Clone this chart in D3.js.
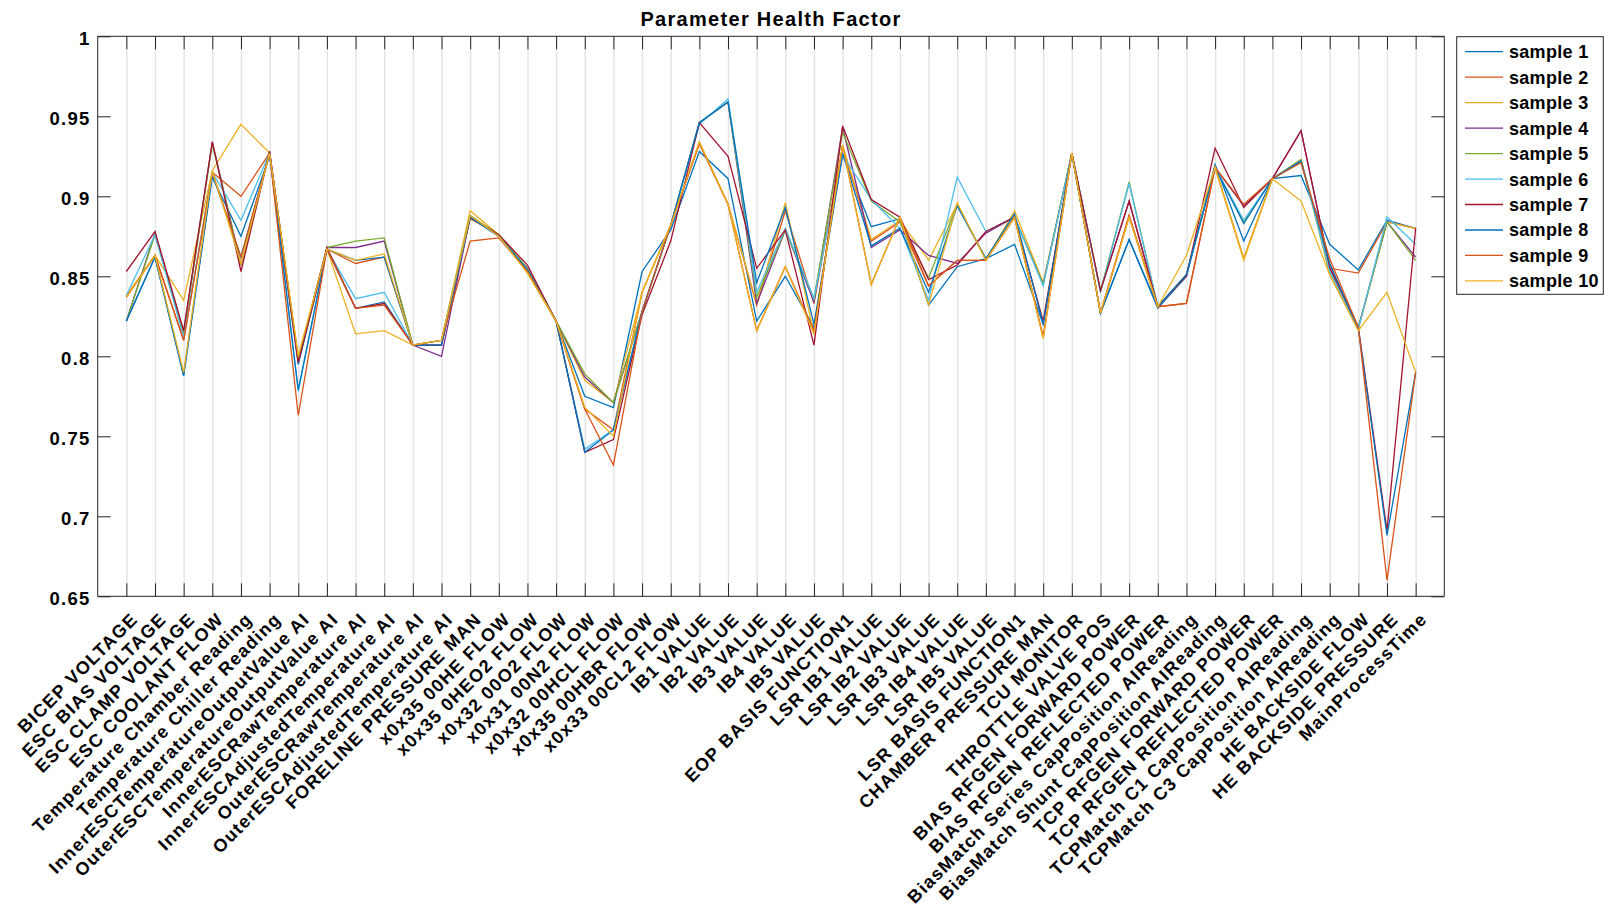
<!DOCTYPE html>
<html>
<head>
<meta charset="utf-8">
<script src="https://cdn.jsdelivr.net/npm/d3@7"></script>
<style>
  html, body { margin: 0; padding: 0; background: #fff; }
  svg text { font-family: "Liberation Sans", Arial, Helvetica, sans-serif; font-weight: bold; fill: #000; }
</style>
</head>
<body>
<svg id="chart" width="1609" height="907"></svg>
<script>
const categories = [
  "BICEP VOLTAGE","ESC BIAS VOLTAGE","ESC CLAMP VOLTAGE","ESC COOLANT FLOW",
  "Temperature Chamber Reading","Temperature Chiller Reading",
  "InnerESCTemperatureOutputValue AI","OuterESCTemperatureOutputValue AI",
  "InnerESCRawTemperature AI","InnerESCAdjustedTemperature AI",
  "OuterESCRawTemperature AI","OuterESCAdjustedTemperature AI",
  "FORELINE PRESSURE MAN","x0x35 00HE FLOW","x0x35 0HEO2 FLOW","x0x32 00O2 FLOW",
  "x0x31 00N2 FLOW","x0x32 00HCL FLOW","x0x35 00HBR FLOW","x0x33 00CL2 FLOW",
  "IB1 VALUE","IB2 VALUE","IB3 VALUE","IB4 VALUE","IB5 VALUE","EOP BASIS FUNCTION1",
  "LSR IB1 VALUE","LSR IB2 VALUE","LSR IB3 VALUE","LSR IB4 VALUE","LSR IB5 VALUE",
  "LSR BASIS FUNCTION1","CHAMBER PRESSURE MAN","TCU MONITOR","THROTTLE VALVE POS",
  "BIAS RFGEN FORWARD POWER","BIAS RFGEN REFLECTED POWER",
  "BiasMatch Series CapPosition AIReading","BiasMatch Shunt CapPosition AIReading",
  "TCP RFGEN FORWARD POWER","TCP RFGEN REFLECTED POWER",
  "TCPMatch C1 CapPosition AIReading","TCPMatch C3 CapPosition AIReading",
  "HE BACKSIDE FLOW","HE BACKSIDE PRESSURE","MainProcessTime"
];

const sample1 = [0.822,0.862,0.788,0.912,0.875,0.925,0.795,0.867,0.830,0.834,0.807,0.807,0.888,0.875,0.853,0.822,0.775,0.768,0.853,0.879,0.928,0.911,0.822,0.850,0.818,0.926,0.881,0.886,0.832,0.856,0.861,0.870,0.820,0.927,0.827,0.873,0.830,0.850,0.920,0.872,0.911,0.913,0.870,0.854,0.885,0.880];
const sample2 = [0.837,0.863,0.810,0.915,0.900,0.927,0.797,0.867,0.858,0.862,0.807,0.810,0.886,0.876,0.854,0.822,0.767,0.754,0.840,0.882,0.933,0.895,0.832,0.891,0.833,0.931,0.872,0.884,0.844,0.860,0.860,0.887,0.812,0.927,0.827,0.888,0.831,0.833,0.918,0.861,0.911,0.922,0.855,0.852,0.884,0.880];
const sample3 = [0.838,0.863,0.835,0.916,0.945,0.927,0.800,0.867,0.814,0.816,0.807,0.810,0.891,0.876,0.852,0.822,0.785,0.771,0.840,0.882,0.934,0.895,0.833,0.896,0.814,0.932,0.873,0.885,0.860,0.895,0.860,0.891,0.846,0.927,0.827,0.887,0.831,0.851,0.918,0.861,0.911,0.923,0.851,0.817,0.884,0.880];
const sample4 = [0.822,0.877,0.815,0.934,0.857,0.928,0.797,0.868,0.868,0.872,0.807,0.800,0.887,0.875,0.855,0.822,0.787,0.771,0.828,0.882,0.946,0.959,0.833,0.879,0.834,0.943,0.868,0.879,0.863,0.858,0.877,0.887,0.845,0.927,0.841,0.897,0.831,0.851,0.918,0.894,0.911,0.941,0.855,0.818,0.884,0.862];
const sample5 = [0.822,0.876,0.814,0.933,0.857,0.927,0.798,0.868,0.872,0.874,0.807,0.810,0.888,0.876,0.855,0.822,0.789,0.771,0.828,0.882,0.946,0.959,0.837,0.879,0.836,0.940,0.897,0.884,0.849,0.895,0.861,0.887,0.845,0.927,0.841,0.909,0.831,0.851,0.918,0.884,0.911,0.923,0.853,0.818,0.884,0.860];
const sample6 = [0.838,0.876,0.812,0.915,0.885,0.927,0.778,0.867,0.836,0.840,0.807,0.810,0.887,0.875,0.854,0.822,0.742,0.754,0.828,0.882,0.945,0.961,0.840,0.880,0.836,0.926,0.898,0.880,0.835,0.912,0.878,0.887,0.844,0.927,0.840,0.908,0.831,0.850,0.918,0.885,0.911,0.922,0.853,0.817,0.887,0.870];
const sample7 = [0.853,0.878,0.816,0.934,0.853,0.928,0.796,0.868,0.830,0.833,0.807,0.807,0.887,0.876,0.857,0.822,0.740,0.748,0.826,0.872,0.946,0.925,0.855,0.879,0.807,0.944,0.898,0.887,0.848,0.857,0.878,0.887,0.822,0.927,0.841,0.897,0.831,0.850,0.930,0.893,0.911,0.941,0.856,0.818,0.691,0.880];
const sample8 = [0.822,0.862,0.788,0.914,0.862,0.927,0.779,0.867,0.860,0.862,0.807,0.807,0.887,0.875,0.854,0.822,0.740,0.754,0.828,0.882,0.946,0.959,0.846,0.893,0.820,0.927,0.869,0.880,0.840,0.894,0.861,0.889,0.820,0.927,0.827,0.873,0.831,0.851,0.918,0.883,0.911,0.922,0.858,0.817,0.688,0.790];
const sample9 = [0.837,0.863,0.810,0.915,0.862,0.927,0.763,0.867,0.830,0.832,0.807,0.810,0.872,0.874,0.853,0.822,0.767,0.732,0.828,0.882,0.933,0.895,0.816,0.856,0.816,0.932,0.845,0.887,0.844,0.860,0.860,0.887,0.812,0.927,0.827,0.888,0.831,0.833,0.918,0.895,0.911,0.921,0.861,0.818,0.660,0.790];
const sample10 = [0.837,0.863,0.790,0.916,0.858,0.927,0.800,0.867,0.860,0.864,0.807,0.810,0.888,0.875,0.852,0.822,0.768,0.750,0.840,0.882,0.934,0.895,0.816,0.856,0.814,0.932,0.845,0.887,0.832,0.896,0.860,0.887,0.811,0.927,0.827,0.887,0.831,0.863,0.918,0.860,0.911,0.897,0.851,0.816,0.840,0.790];

const seriesNames = ["sample 1","sample 2","sample 3","sample 4","sample 5","sample 6","sample 7","sample 8","sample 9","sample 10"];
const seriesValues = [sample1,sample2,sample3,sample4,sample5,sample6,sample7,sample8,sample9,sample10];
const colors = ["#0072BD","#D95319","#EDB120","#7E2F8E","#77AC30","#4DBEEE","#A2142F","#0072BD","#D95319","#EDB120"];
const yTicks = [0.65,0.7,0.75,0.8,0.85,0.9,0.95,1];
const yTickLabels = ["0.65","0.7","0.75","0.8","0.85","0.9","0.95","1"];
const title = "Parameter Health Factor";

const svg = d3.select("#chart");
const L = 97.7, R = 1444.3, T = 36.3, B = 596.3;
const idx = categories.map((c, i) => i + 1);

const x = d3.scaleLinear().domain([0, categories.length + 1]).range([L, R]);
const y = d3.scaleLinear().domain([0.65, 1]).range([B, T]);

svg.append("rect").attr("x", 0).attr("y", 0).attr("width", 1609).attr("height", 907).attr("fill", "#fff");

// vertical grid
const grid = svg.append("g").attr("transform", `translate(0,${B})`)
  .call(d3.axisBottom(x).tickValues(idx).tickSize(-(B - T)).tickFormat(""));
grid.select(".domain").remove();
grid.selectAll("line").attr("stroke", "#e4e4e4").attr("stroke-width", 1.4);

// lines
const line = d3.line().x((d, i) => x(i + 1)).y(d => y(d));
svg.append("g").selectAll("path").data(seriesValues).join("path")
  .attr("d", d => line(d))
  .attr("fill", "none")
  .attr("stroke", (d, i) => colors[i])
  .attr("stroke-width", 1.3)
  .attr("stroke-linejoin", "miter");

const axisColor = "#262626";

// bottom axis
const gx = svg.append("g").attr("transform", `translate(0,${B})`)
  .call(d3.axisBottom(x).tickValues(idx).tickSizeInner(-13).tickSizeOuter(0).tickFormat((d) => categories[d - 1]));
gx.select(".domain").attr("stroke", axisColor).attr("d", `M${L},0H${R}`);
gx.selectAll(".tick line").attr("stroke", axisColor);
gx.selectAll(".tick text")
  .attr("x", 0).attr("y", 0).attr("dy", 0)
  .attr("text-anchor", "end")
  .attr("transform", "translate(12,24) rotate(-45)")
  .style("font-size", "18px").style("letter-spacing", "1.3px").attr("fill", "#000");

// top axis
const gt = svg.append("g").attr("transform", `translate(0,${T})`)
  .call(d3.axisTop(x).tickValues(idx).tickSizeInner(-13).tickSizeOuter(0).tickFormat(""));
gt.select(".domain").attr("stroke", axisColor).attr("d", `M${L},0H${R}`);
gt.selectAll(".tick line").attr("stroke", axisColor);

// left axis
const gy = svg.append("g").attr("transform", `translate(${L},0)`)
  .call(d3.axisLeft(y).tickValues(yTicks).tickSizeInner(-13).tickSizeOuter(0).tickPadding(7)
    .tickFormat((d, i) => yTickLabels[i]));
gy.select(".domain").attr("stroke", axisColor).attr("d", `M0,${T}V${B}`);
gy.selectAll(".tick line").attr("stroke", axisColor);
gy.selectAll(".tick text").style("font-size", "18.5px").style("letter-spacing", "1.3px")
  .attr("dy", "0.42em").attr("fill", "#000");

// right axis
const gr = svg.append("g").attr("transform", `translate(${R},0)`)
  .call(d3.axisRight(y).tickValues(yTicks).tickSizeInner(-13).tickSizeOuter(0).tickFormat(""));
gr.select(".domain").attr("stroke", axisColor).attr("d", `M0,${T}V${B}`);
gr.selectAll(".tick line").attr("stroke", axisColor);

// title
svg.append("text").attr("x", (L + R) / 2).attr("y", 26).attr("text-anchor", "middle")
  .style("font-size", "20px").style("letter-spacing", "1.3px").text(title);

// legend
const lg = svg.append("g");
lg.append("rect").attr("x", 1456.7).attr("y", 36.7).attr("width", 146.6).attr("height", 257.6)
  .attr("fill", "#fff").attr("stroke", axisColor).attr("stroke-width", 1);
const rowY = i => 51.7 + i * 25.47;
lg.selectAll("line.l").data(seriesNames).join("line").attr("class", "l")
  .attr("x1", 1465).attr("x2", 1503).attr("y1", (d, i) => rowY(i)).attr("y2", (d, i) => rowY(i))
  .attr("stroke", (d, i) => colors[i]).attr("stroke-width", 1.3);
lg.selectAll("text").data(seriesNames).join("text")
  .attr("x", 1509).attr("y", (d, i) => rowY(i)).attr("dy", "0.36em")
  .style("font-size", "18px").style("letter-spacing", "0.3px").text(d => d);
</script>
</body>
</html>
